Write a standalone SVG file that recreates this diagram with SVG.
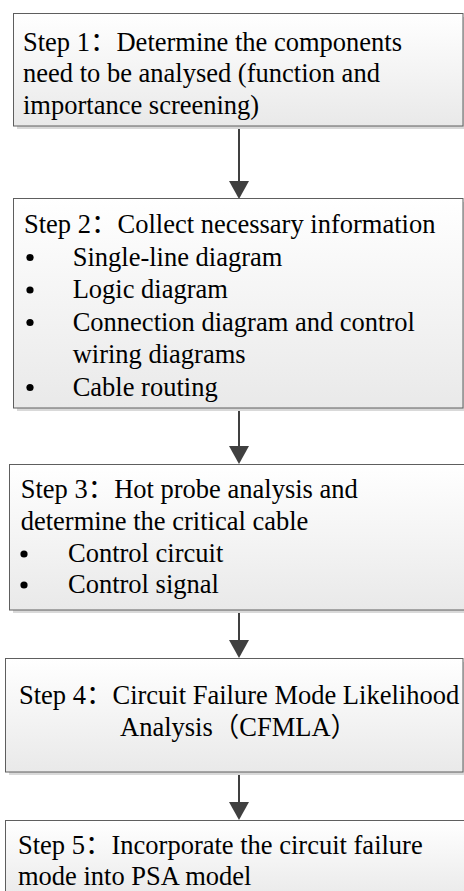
<svg xmlns="http://www.w3.org/2000/svg" width="464" height="891" viewBox="0 0 464 891">
<style>
.box{fill:url(#boxfill);stroke:#5e5e5e;stroke-width:1}
.shadow{fill:#d9d9d9}
.t{font-family:"Liberation Serif","Noto Sans CJK SC",serif;font-size:26.5px;fill:#000}
.dot{fill:#000}
.conn{stroke:#404040;stroke-width:2;fill:none;marker-end:url(#arr)}
</style>
<defs>
<linearGradient id="boxfill" x1="0" y1="0" x2="0" y2="1">
<stop offset="0" stop-color="#ffffff"/>
<stop offset="1" stop-color="#e9e9e9"/>
</linearGradient>
<marker id="arr" markerUnits="userSpaceOnUse" markerWidth="18" markerHeight="20" viewBox="0 0 18 20" refX="2" refY="10" orient="auto">
<path d="M0,0 L18,10 L0,20 z" fill="#404040"/>
</marker>
</defs>
<g id="connectors">
<line class="conn" x1="239" y1="126" x2="239" y2="183"/>
<line class="conn" x1="239" y1="408" x2="239" y2="448"/>
<line class="conn" x1="239" y1="610" x2="239" y2="642"/>
<line class="conn" x1="239" y1="772" x2="239" y2="804"/>
</g>
<g id="step1">
<rect class="shadow" x="17" y="17" width="450" height="112"/>
<rect class="box" x="13.5" y="13.5" width="449.5" height="112.5"/>
<text class="t" x="23" y="50.5">Step 1：Determine the components</text>
<text class="t" x="23" y="82">need to be analysed (function and</text>
<text class="t" x="23" y="113.5">importance screening)</text>
</g>
<g id="step2">
<rect class="shadow" x="17" y="202" width="450" height="209"/>
<rect class="box" x="13.5" y="198.5" width="449.5" height="209.5"/>
<text class="t" x="24" y="233">Step 2：Collect necessary information</text>
<circle class="dot" cx="30" cy="257.5" r="3.6"/>
<text class="t" x="72.7" y="265.5">Single-line diagram</text>
<circle class="dot" cx="30" cy="290" r="3.6"/>
<text class="t" x="72.7" y="298">Logic diagram</text>
<circle class="dot" cx="30" cy="322.5" r="3.6"/>
<text class="t" x="72.7" y="330.5">Connection diagram and control</text>
<text class="t" x="72.7" y="363">wiring diagrams</text>
<circle class="dot" cx="30" cy="387.5" r="3.6"/>
<text class="t" x="72.7" y="395.5">Cable routing</text>
</g>
<g id="step3">
<rect class="shadow" x="13" y="468" width="470" height="145"/>
<rect class="box" x="9.5" y="464.5" width="470" height="145.5"/>
<text class="t" x="20.7" y="498">Step 3：Hot probe analysis and</text>
<text class="t" x="20.7" y="530">determine the critical cable</text>
<circle class="dot" cx="24" cy="554" r="3.6"/>
<text class="t" x="68" y="562">Control circuit</text>
<circle class="dot" cx="24" cy="585" r="3.6"/>
<text class="t" x="68" y="593">Control signal</text>
</g>
<g id="step4">
<rect class="shadow" x="9" y="662" width="457" height="113"/>
<rect class="box" x="5.5" y="658.5" width="457.5" height="113.5"/>
<text class="t" x="19" y="704">Step 4：Circuit Failure Mode Likelihood</text>
<text class="t" x="120" y="736">Analysis（CFMLA）</text>
</g>
<g id="step5">
<rect class="shadow" x="9" y="824" width="470" height="80"/>
<rect class="box" x="5.5" y="820.5" width="470" height="80"/>
<text class="t" x="18" y="854">Step 5：Incorporate the circuit failure</text>
<text class="t" x="18" y="885">mode into PSA model</text>
</g>
</svg>
